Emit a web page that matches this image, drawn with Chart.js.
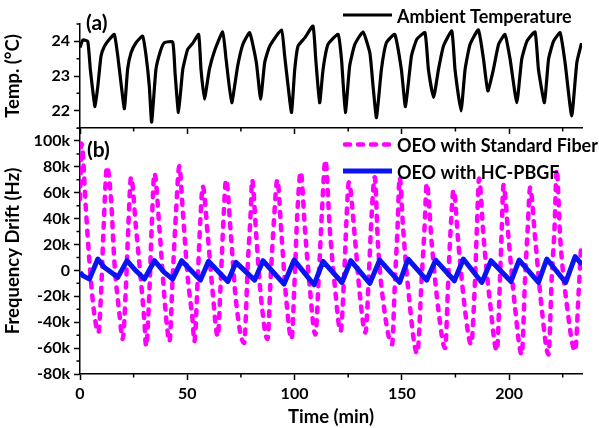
<!DOCTYPE html>
<html>
<head>
<meta charset="utf-8">
<script src="https://cdn.jsdelivr.net/npm/chart.js@4/dist/chart.umd.min.js"></script>
<style>
  html, body { margin: 0; padding: 0; background: #fff; }
  #wrap { position: relative; width: 599px; height: 428px; }
  canvas { position: absolute; left: 0; }
</style>
</head>
<body>
<div id="wrap">
  <canvas id="bottom" width="599" height="300" style="top:128px"></canvas>
  <canvas id="top" width="599" height="140" style="top:0px"></canvas>
</div>
<script>
// time axis (min)
const xMajor = [0, 50, 100, 150, 200];
const xMinor = [25, 75, 125, 175, 225];

// (a) ambient temperature, degC
const tempTime = [0, 1.3, 3.6, 4.8, 5.9, 7.0, 8.3, 9.8, 11.4, 13.7, 16.0, 17.6, 19.1, 20.7, 22.2, 23.8, 26.1, 29.2,
  30.8, 32.3, 33.4, 35.4, 37.5, 39.3, 43.2, 44.3, 45.9, 47.9, 50.2, 52.5, 55.3, 56.4, 58.0, 60.3, 62.7, 66.5,
  68.1, 70.7, 73.5, 75.9, 79.1, 82.2, 84.2, 86.1, 88.4, 93.9, 95.4, 97.0, 98.6, 100.1, 101.6, 104.8, 108.6,
  109.9, 111.7, 113.3, 115.6, 120.3, 121.9, 123.7, 125.7, 128.1, 131.9, 135.1, 136.6, 138.2, 140.5, 142.8,
  146.7, 149.8, 151.7, 154.5, 157.0, 160.8, 162.4, 164.8, 167.1, 169.4, 173.3, 174.8, 177.6, 179.5, 181.8,
  185.7, 188.1, 190.1, 192.7, 195.1, 198.1, 200.5, 203.6, 205.9, 208.3, 212.1, 213.7, 216.5, 218.4, 220.7,
  223.8, 226.1, 229.2, 231.6, 233.8];
const tempValue = [23.82, 24.04, 24.0, 23.2, 22.6, 22.12, 22.7, 23.58, 23.86, 24.06, 24.2, 23.58, 22.8, 22.06, 23.2, 23.67, 23.96, 24.15,
  23.58, 22.71, 21.67, 23.19, 23.72, 23.96, 23.98, 23.1, 21.95, 23.19, 23.77, 23.94, 24.2, 23.19, 22.33, 23.19, 23.72, 24.27,
  23.48, 22.23, 23.29, 23.91, 24.25, 23.39, 22.33, 23.39, 23.86, 24.33, 23.58, 22.71, 21.95, 23.19, 23.86, 24.1, 24.44,
  23.48, 22.23, 23.19, 23.91, 24.2, 23.48, 21.95, 23.29, 23.91, 24.27, 23.67, 22.71, 21.8, 23.19, 23.96,
  24.2, 23.19, 22.12, 23.58, 24.06, 24.25, 23.19, 22.38, 23.19, 23.86, 24.3, 23.19, 21.99, 23.19, 23.91,
  24.33, 23.48, 22.57, 23.19, 23.91, 24.2, 23.48, 22.23, 23.48, 24.0, 24.27, 23.19, 22.23, 23.48, 24.0,
  24.25, 23.39, 21.85, 23.39, 23.95];
const tempMajor = [22, 23, 24];
const tempMinor = [21.5, 22.5, 23.5, 24.5];

// (b) frequency drift, kHz
const stdTime = [0, 0.7, 2.8, 3.6, 5.1, 6.7, 8.6, 9.8, 11.0, 12.6, 14.5, 16.0, 18.4, 19.9, 21.4, 22.5, 23.8, 26.1,
  28.4, 30.0, 30.8, 32.3, 33.4, 34.7, 37.0, 39.0, 40.6, 41.7, 43.2, 44.8, 46.3, 47.9, 50.2, 52.5, 53.3, 54.9,
  56.1, 57.2, 59.5, 61.9, 64.2, 65.7, 67.0, 68.1, 70.4, 72.7, 76.5, 78.3, 79.6, 80.2, 82.2, 84.2, 87.4, 88.9,
  90.4, 92.0, 93.9, 96.2, 98.6, 100.1, 101.3, 102.9, 104.8, 107.1, 109.7, 111.3, 112.8, 114.4, 116.4, 118.7,
  121.5, 123.1, 124.2, 125.3, 128.1, 130.4, 133.1, 134.6, 135.8, 137.4, 138.9, 141.3, 145.5, 146.7, 148.0,
  149.0, 150.6, 152.9, 157.2, 159.3, 160.6, 161.6, 164.0, 167.1, 170.2, 171.7, 173.0, 174.1, 176.4, 179.5,
  182.3, 184.2, 185.0, 186.0, 188.1, 191.2, 194.3, 195.8, 196.6, 197.4, 199.7, 202.8, 205.9, 207.5, 208.7,
  209.8, 212.1, 215.2, 218.4, 219.9, 221.2, 222.2, 223.8, 226.9, 230.8, 232.4, 233.6];
const stdDrift = [55, 98, 46, 25.6, -8, -34, -48, -18, 33, 80, 54, 7.5, -34, -53, -13, 33, 72, 33,
  -8, -39, -58.5, -18, 33, 75, 33, -13, -44, -55, -5, 46, 80.5, 46, -5, -39, -55, -5,
  38.6, 65, 28, -18, -51, -5, 44, 70, 26, -23.5, -56, 7.5, 46, 70, 26, -18, -53, -5,
  38.6, 70, 28, -23.5, -53, -5, 44, 76, 33, -13, -49.5, -5, 46, 85, 33, -10.6,
  -47, -5, 38.6, 68, 26, -18, -48, -5, 38.6, 72, 20, -23.5, -57, -13, 33,
  72, 33, -13, -64, -5, 33, 67, 20, -31, -60, -5, 38.6, 62, 20, -31,
  -57, -5, 33, 71, 26, -26, -62, -5, 33, 66, 26, -29, -65, -5, 33,
  64, 26, -29, -65, -5, 33, 78, 26, -26, -62, -18, 20];

const hcTime = [0, 1.3, 4.4, 8.3, 11.4, 14.5, 17.6, 21.9, 26.1, 30.0, 34.7, 39.3, 43.2, 47.4, 56.1, 59.9, 68.9,
  72.7, 81.4, 85.3, 95.1, 99.8, 109.1, 113.3, 122.1, 126.2, 135.1, 139.7, 149.0, 152.9, 161.6, 165.8,
  174.5, 178.7, 187.3, 191.6, 200.9, 204.7, 213.7, 217.6, 226.4, 230.8, 233.9];
const hcDrift = [-1.5, -4, -6.7, 8.8, 2.3, -1.5, -5.4, 7.5, -0.3, -6.7, 7.5, -1.5, -6.7, 7.5, -7.5, 7, -8.5,
  6.2, -7.5, 7.5, -10.6, 8, -11.1, 7, -9.3, 7.5, -10, 8, -9.3, 8.8, -7.5, 8,
  -8, 8.8, -9.3, 7.5, -8.5, 8, -9.3, 8.8, -9.3, 10.6, 4.7];
const driftMajor = [-80, -60, -40, -20, 0, 20, 40, 60, 80, 100];
const driftMinor = [-70, -50, -30, -10, 10, 30, 50, 70, 90, 110];

const FONT = 'Lato';
Chart.defaults.font.family = FONT;
Chart.defaults.font.weight = 'bold';
Chart.defaults.color = '#000';

const pts = (xs, ys) => xs.map((x, i) => ({ x: x, y: ys[i] }));

// short minor ticks + legend + panel letter
function decor(minorX, minorY, legendBox, letter) {
  return {
    id: 'decor',
    afterDraw(chart) {
      const ctx = chart.ctx, a = chart.chartArea;
      const sx = chart.scales.x, sy = chart.scales.y;
      ctx.save();
      ctx.strokeStyle = '#000';
      ctx.lineWidth = 1.5;
      ctx.beginPath();
      minorX.forEach(v => {
        const px = sx.getPixelForValue(v);
        ctx.moveTo(px, a.bottom);
        ctx.lineTo(px, a.bottom + 3.5);
      });
      minorY.forEach(v => {
        const py = sy.getPixelForValue(v);
        ctx.moveTo(a.left, py);
        ctx.lineTo(a.left - 3.5, py);
      });
      ctx.stroke();

      ctx.font = 'bold 18px ' + FONT;
      ctx.textBaseline = 'middle';
      ctx.textAlign = 'left';
      chart.data.datasets.forEach((ds, i) => {
        const y = legendBox.y + i * legendBox.gap;
        ctx.strokeStyle = ds.borderColor;
        ctx.lineWidth = ds.borderWidth;
        ctx.lineCap = ds.borderCapStyle || 'butt';
        ctx.setLineDash(ds.borderDash || []);
        ctx.beginPath();
        ctx.moveTo(legendBox.x0 + (ds.borderDash ? 2 : 0), y);
        ctx.lineTo(legendBox.x1, y);
        ctx.stroke();
        ctx.setLineDash([]);
        ctx.fillStyle = '#000';
        ctx.fillText(ds.label, legendBox.x1 + 5, y + 2);
      });

      ctx.font = 'bold 21px ' + FONT;
      ctx.fillText(letter.text, letter.x, letter.y);
      ctx.restore();
    }
  };
}

function xScale(showLabels, height) {
  return {
    type: 'linear', min: 0, max: 234,
    afterBuildTicks: s => { s.ticks = xMajor.map(v => ({ value: v })); },
    afterFit: s => { s.height = height; s.paddingLeft = 0; s.paddingRight = 0; },
    ticks: { display: showLabels, font: { size: 16 }, padding: 4, maxRotation: 0 },
    grid: { drawOnChartArea: false, tickLength: 6, tickColor: '#000', tickWidth: 1.5 },
    border: { color: '#000', width: 1.5 },
    title: { display: showLabels, text: 'Time (min)', font: { size: 18.5 }, padding: { top: 0, bottom: 0 } }
  };
}

function yScale(min, max, major, fmt, title) {
  return {
    min: min, max: max,
    afterBuildTicks: s => { s.ticks = major.map(v => ({ value: v })); },
    afterFit: s => { s.width = 80; s.paddingTop = 0; s.paddingBottom = 0; },
    ticks: { font: { size: 16 }, padding: 4, callback: fmt },
    grid: { drawOnChartArea: false, tickLength: 6, tickColor: '#000', tickWidth: 1.5 },
    border: { color: '#000', width: 1.5 },
    title: { display: true, text: title, font: { size: 18.5 }, padding: { top: 1.5, bottom: 0 } }
  };
}

new Chart(document.getElementById('top'), {
  type: 'line',
  data: {
    datasets: [{
      label: 'Ambient Temperature',
      data: pts(tempTime, tempValue),
      borderColor: '#000', borderWidth: 3.2, borderJoinStyle: 'round',
      tension: 0.15,
      pointRadius: 0
    }]
  },
  options: {
    responsive: false, animation: false,
    layout: { padding: { top: 24, right: 17, left: 0, bottom: 0 } },
    plugins: { legend: { display: false }, tooltip: { enabled: false } },
    scales: {
      x: xScale(false, 12),
      y: yScale(21.5, 24.5, tempMajor, v => String(v), 'Temp. (°C)')
    }
  },
  plugins: [decor(xMinor, tempMinor, { x0: 343, x1: 392, y: 15, gap: 0 }, { text: '(a)', x: 86, y: 23 })]
});

new Chart(document.getElementById('bottom'), {
  type: 'line',
  data: {
    datasets: [{
      label: 'OEO with Standard Fiber',
      data: pts(stdTime, stdDrift),
      borderColor: '#ff00ff', borderWidth: 4.5, borderDash: [5, 8], borderCapStyle: 'round',
      borderJoinStyle: 'round', cubicInterpolationMode: 'monotone',
      pointRadius: 0, order: 2
    }, {
      label: 'OEO with HC-PBGF',
      data: pts(hcTime, hcDrift),
      borderColor: '#0a14f0', borderWidth: 5, borderJoinStyle: 'round',
      pointRadius: 0, tension: 0, order: 1
    }]
  },
  options: {
    responsive: false, animation: false,
    layout: { padding: { top: 0, right: 17, left: 0, bottom: 0 } },
    plugins: { legend: { display: false }, tooltip: { enabled: false } },
    scales: {
      x: xScale(true, 54),
      y: yScale(-80, 110, driftMajor, v => v === 0 ? '0' : v + 'k', 'Frequency Drift (Hz)')
    }
  },
  plugins: [decor(xMinor, driftMinor, { x0: 343, x1: 392, y: 16.5, gap: 26.5 }, { text: '(b)', x: 87, y: 22.5 })]
});
</script>
</body>
</html>
